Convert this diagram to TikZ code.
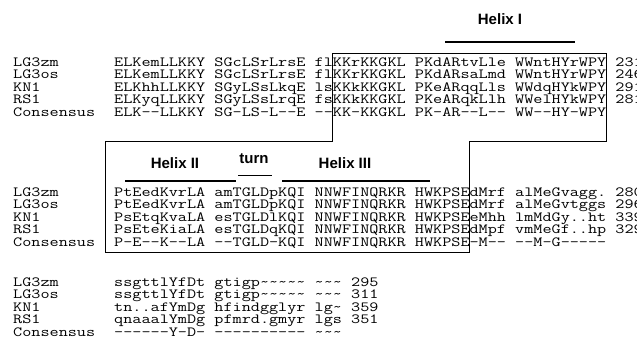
\documentclass[tikz,border=0pt]{standalone}
\usepackage{graphicx}
\usepackage{fontspec}
\setsansfont{Liberation Sans}
\newcommand\seqtxt[1]{\scalebox{1.264}[1]{#1}}

\begin{document}
\begin{tikzpicture}[x=1pt,y=-1pt,
  seq/.style={anchor=base west,inner sep=0pt,font=\fontsize{14}{14}\selectfont\ttfamily\frenchspacing},
  helix/.style={inner sep=0pt,font=\fontsize{15}{15}\selectfont\sffamily\bfseries},
  bar/.style={line width=2.4pt},
  frame/.style={line width=0.8pt}]
  \useasboundingbox (0,0) rectangle (637,356);

  % block 1
  \node[seq] (nm11) at (13,66) {\seqtxt{LG3zm}};
  \node[seq] (nm12) at (13,78.5) {\seqtxt{LG3os}};
  \node[seq] (nm13) at (13,91) {\seqtxt{KN1}};
  \node[seq] (nm14) at (13,103.5) {\seqtxt{RS1}};
  \node[seq] (nm15) at (13,116) {\seqtxt{Consensus}};
  \node[seq] (sq11) at (114,66) {\seqtxt{ELKemLLKKY SGcLSrLrsE flKKrKKGKL PKdARtvLle WWntHYrWPY 231}};
  \node[seq] (sq12) at (114,78.5) {\seqtxt{ELKemLLKKY SGcLSrLrsE flKKrKKGKL PKdARsaLmd WWntHYrWPY 246}};
  \node[seq] (sq13) at (114,91) {\seqtxt{ELKhhLLKKY SGyLSsLkqE lsKKkKKGKL PKeARqqLls WWdqHYkWPY 291}};
  \node[seq] (sq14) at (114,103.5) {\seqtxt{ELKyqLLKKY SGyLSsLrqE fsKKkKKGKL PKeARqkLlh WWelHYkWPY 281}};
  \node[seq] (sq15) at (114,116) {\seqtxt{ELK--LLKKY SG-LS-L--E --KK-KKGKL PK-AR--L-- WW--HY-WPY}};

  % block 2
  \node[seq] (nm21) at (13,196) {\seqtxt{LG3zm}};
  \node[seq] (nm22) at (13,208.5) {\seqtxt{LG3os}};
  \node[seq] (nm23) at (13,221) {\seqtxt{KN1}};
  \node[seq] (nm24) at (13,233.5) {\seqtxt{RS1}};
  \node[seq] (nm25) at (13,246) {\seqtxt{Consensus}};
  \node[seq] (sq21) at (114,196) {\seqtxt{PtEedKvrLA amTGLDpKQI NNWFINQRKR HWKPSEdMrf alMeGvagg. 280}};
  \node[seq] (sq22) at (114,208.5) {\seqtxt{PtEedKvrLA amTGLDpKQI NNWFINQRKR HWKPSEdMrf alMeGvtggs 296}};
  \node[seq] (sq23) at (114,221) {\seqtxt{PsEtqKvaLA esTGLDlKQI NNWFINQRKR HWKPSEeMhh lmMdGy..ht 339}};
  \node[seq] (sq24) at (114,233.5) {\seqtxt{PsEteKiaLA esTGLDqKQI NNWFINQRKR HWKPSEdMpf vmMeGf..hp 329}};
  \node[seq] (sq25) at (114,246) {\seqtxt{P-E--K--LA --TGLD-KQI NNWFINQRKR HWKPSE-M-- --M-G-----}};

  % block 3
  \node[seq] (nm31) at (13,286) {\seqtxt{LG3zm}};
  \node[seq] (nm32) at (13,298.5) {\seqtxt{LG3os}};
  \node[seq] (nm33) at (13,311) {\seqtxt{KN1}};
  \node[seq] (nm34) at (13,323.5) {\seqtxt{RS1}};
  \node[seq] (nm35) at (13,336) {\seqtxt{Consensus}};
  \node[seq] (sq31) at (114,286) {\seqtxt{\detokenize{ssgttlYfDt gtigp~~~~~ ~~~ 295}}};
  \node[seq] (sq32) at (114,298.5) {\seqtxt{\detokenize{ssgttlYfDt gtigp~~~~~ ~~~ 311}}};
  \node[seq] (sq33) at (114,311) {\seqtxt{\detokenize{tn..afYmDg hfindgglyr lg~ 359}}};
  \node[seq] (sq34) at (114,323.5) {\seqtxt{qnaaalYmDg pfmrd.gmyr lgs 351}};
  \node[seq] (sq35) at (114,336) {\seqtxt{\detokenize{------Y-D- ---------- ~~~}}};

  % helix labels
  \node[helix] (h1) at (500,19) {Helix I};
  \draw[bar] (445,42) -- (575,42);
  \node[helix] (h2) at (175,163) {Helix II};
  \draw[bar] (125,181) -- (236,181);
  \node[helix] (tn) at (254,159) {turn};
  \draw[line width=1pt] (238,175) -- (272,175);
  \node[helix] (h3) at (345,163) {Helix III};
  \draw[bar] (282,181) -- (430,181);

  % frame round the helices
  \coordinate (A) at (332.4,53);
  \coordinate (B) at (606.5,53);
  \coordinate (C) at (606.5,141);
  \coordinate (D) at (469,141);
  \coordinate (E) at (469,252);
  \coordinate (F) at (105.5,252);
  \coordinate (G) at (105.5,141);
  \coordinate (H) at (332.4,141);
  \draw[frame] (A) -- (B) -- (C) -- (D) -- (E) -- (F) -- (G) -- (H) -- cycle;
\end{tikzpicture}
\end{document}
